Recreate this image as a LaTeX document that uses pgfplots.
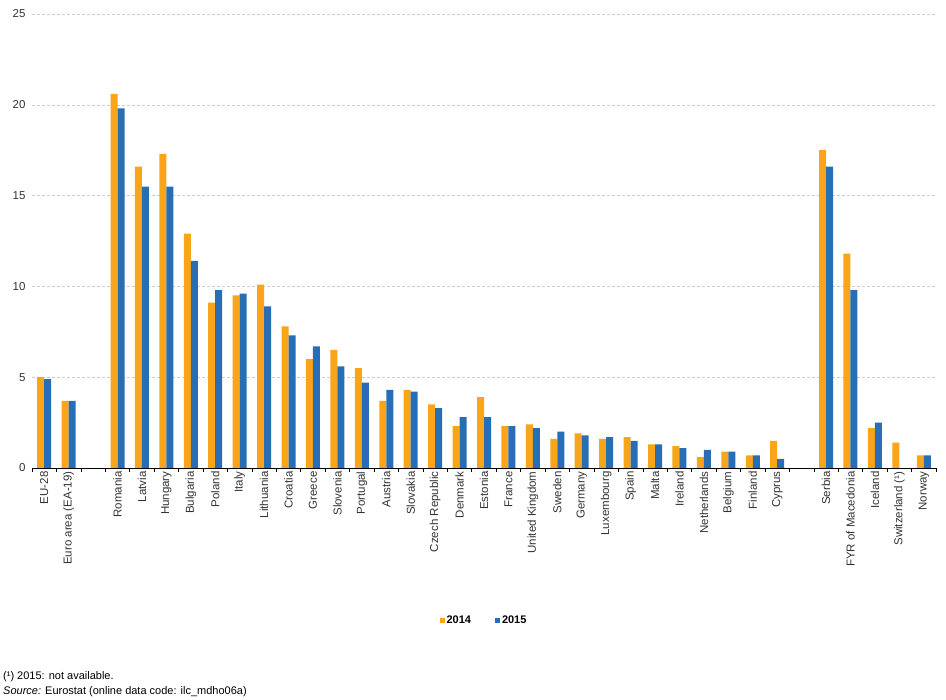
\documentclass[border=0pt]{standalone}
\usepackage{fontspec}
\setmainfont{Liberation Sans}
\usepackage{pgfplots}
\pgfplotsset{compat=1.18}
\definecolor{esorange}{HTML}{FAA519}
\definecolor{esblue}{HTML}{286EB4}

\begin{document}
\begin{tikzpicture}
\useasboundingbox (-32pt,-232pt) rectangle (914pt,468pt);
\begin{axis}[
at={(0,0)}, anchor=south west,
scale only axis,
width=904pt, height=454pt,
ybar=0pt,
bar width=7pt,
xmin=-0.5, xmax=36.5,
ymin=0, ymax=25,
ytick={0,5,...,25},
ymajorgrids,
grid style={densely dashed, black!20, line width=0.5pt},
axis x line*=bottom,
axis y line*=left,
y axis line style={draw=none},
tick align=outside,
major tick length=0pt,
minor tick length=4pt,
minor xtick={-0.5,0.5,...,36.5},
minor tick style={black, line width=0.6pt},
x axis line style={black, line width=0.6pt},
xtick={0,1,3,4,5,6,7,8,9,10,11,12,13,14,15,16,17,18,19,20,21,22,23,24,25,26,27,28,29,30,32,33,34,35,36},
xticklabels={EU-28, Euro area (EA-19), Romania, Latvia, Hungary, Bulgaria, Poland, Italy, Lithuania, Croatia, Greece, Slovenia, Portugal, Austria, Slovakia, Czech Republic, Denmark, Estonia, France, United Kingdom, Sweden, Germany, Luxembourg, Spain, Malta, Ireland, Netherlands, Belgium, Finland, Cyprus, Serbia, FYR of Macedonia, Iceland, Switzerland (¹), Norway},
xticklabel style={rotate=90, anchor=east, font=\fontsize{11.5}{13}\selectfont, text=black!80},
yticklabel style={font=\fontsize{11.5}{13}\selectfont, text=black!80, xshift=-3pt},
/pgf/number format/assume math mode=true,
legend style={at={(0.5,-0.335)}, anchor=center, draw=none, legend columns=2,
  font=\bfseries\fontsize{11}{13}\selectfont,
  /tikz/every even column/.append style={column sep=22pt}},
legend image code/.code={\fill[#1] (0pt,-2.5pt) rectangle (5pt,2.5pt);},
]
\addplot[fill=esorange, draw=none] coordinates {
(0,5.0) (1,3.7) (3,20.6) (4,16.6) (5,17.3) (6,12.9) (7,9.1) (8,9.5) (9,10.1)
(10,7.8) (11,6.0) (12,6.5) (13,5.5) (14,3.7) (15,4.3) (16,3.5) (17,2.3) (18,3.9)
(19,2.3) (20,2.4) (21,1.6) (22,1.9) (23,1.6) (24,1.7) (25,1.3) (26,1.2) (27,0.6)
(28,0.9) (29,0.7) (30,1.5) (32,17.5) (33,11.8) (34,2.2) (35,1.4) (36,0.7)};
\addplot[fill=esblue, draw=none] coordinates {
(0,4.9) (1,3.7) (3,19.8) (4,15.5) (5,15.5) (6,11.4) (7,9.8) (8,9.6) (9,8.9)
(10,7.3) (11,6.7) (12,5.6) (13,4.7) (14,4.3) (15,4.2) (16,3.3) (17,2.8) (18,2.8)
(19,2.3) (20,2.2) (21,2.0) (22,1.8) (23,1.7) (24,1.5) (25,1.3) (26,1.1) (27,1.0)
(28,0.9) (29,0.7) (30,0.5) (32,16.6) (33,9.8) (34,2.5) (36,0.7)};
\legend{2014, 2015}
\end{axis}
\node[anchor=west, inner sep=0pt, font=\fontsize{11}{13}\selectfont] at (-29pt,-209pt) {(¹) 2015: not available.};
\node[anchor=west, inner sep=0pt, font=\fontsize{11}{13}\selectfont] at (-29pt,-224pt) {\textit{Source:} Eurostat (online data code: ilc\_mdho06a)};
\end{tikzpicture}
\end{document}
